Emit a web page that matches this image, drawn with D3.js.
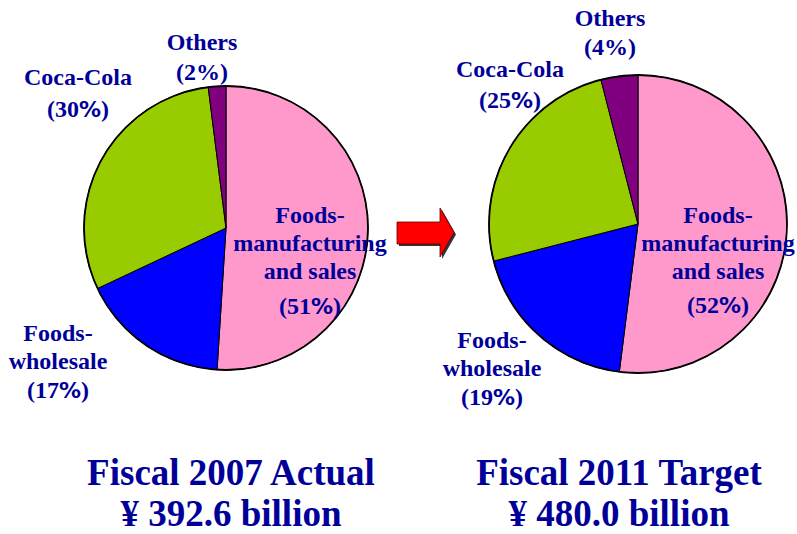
<!DOCTYPE html>
<html><head><meta charset="utf-8">
<script src="https://cdn.jsdelivr.net/npm/d3@7"></script>
<style>body{margin:0;background:#fff}svg{display:block}
.lbl{font-family:"Liberation Serif","Times New Roman",serif;font-weight:bold;}
.pct{font-family:"DejaVu Sans",sans-serif;font-weight:bold;}
</style>
</head><body>
<script>
// ---- data ----
const categories = ["Foods-manufacturing and sales", "Foods-wholesale", "Coca-Cola", "Others"];
const values2007 = [51, 17, 30, 2];
const values2011 = [52, 19, 25, 4];
const colors = ["#ff99cc", "#0000ff", "#99cc00", "#800080"];
const titles2007 = ["Fiscal 2007 Actual", "\u00a5 392.6 billion"];
const titles2011 = ["Fiscal 2011 Target", "\u00a5 480.0 billion"];
const labelLines = [["Foods-", "manufacturing", "and sales"], ["Foods-", "wholesale"], ["Coca-Cola"], ["Others"]];
const wideCats = [true, true, true, false];

const W = 797, H = 534;
const svg = d3.select("body").append("svg").attr("width", W).attr("height", H);
const navy = "#000099";

const charts = [
  {values: values2007, cx: 226, cy: 228, r: 142, titles: titles2007, tx: 231,
   labels: [{x:310,y:223},{x:58,y:341},{x:78,y:85},{x:202,y:50}],
   pctGap: [35, 29, 32, 30]},
  {values: values2011, cx: 638, cy: 224, r: 149, titles: titles2011, tx: 619,
   labels: [{x:718,y:223},{x:492,y:348},{x:510,y:77},{x:610,y:26}],
   pctGap: [34, 29, 31, 29]}
];

const pie = d3.pie().sort(null).value(d => d);

charts.forEach(c => {
  const g = svg.append("g").attr("transform", `translate(${c.cx},${c.cy})`);
  const arc = d3.arc().innerRadius(0).outerRadius(c.r);
  g.selectAll("path.slice").data(pie(c.values)).join("path")
    .attr("class", "slice")
    .attr("d", arc)
    .attr("fill", (d, i) => colors[i])
    .attr("stroke", "#000").attr("stroke-width", 1).attr("stroke-linejoin", "round");
  g.append("circle").attr("r", c.r).attr("fill", "none").attr("stroke", "#000").attr("stroke-width", 1.8);

  c.labels.forEach((p, i) => {
    const lines = labelLines[i];
    lines.forEach((ln, k) => {
      svg.append("text").attr("class", "lbl")
        .attr("x", p.x).attr("y", p.y + k * 28)
        .attr("font-size", 24).attr("fill", navy).attr("text-anchor", "middle")
        .text(ln);
    });
    const py = p.y + (lines.length - 1) * 28 + c.pctGap[i];
    const t = svg.append("text").attr("class", "lbl")
      .attr("x", p.x).attr("y", py)
      .attr("font-size", 24).attr("fill", navy).attr("text-anchor", "middle");
    t.append("tspan").attr("class", "lbl").text("(" + c.values[i]);
    if (wideCats[i]) {
      t.append("tspan").attr("class", "pct").attr("font-size", 22).text("%");
    } else {
      t.append("tspan").attr("class", "lbl").text("%");
    }
    t.append("tspan").attr("class", "lbl").text(")");
  });

  c.titles.forEach((s, k) => {
    svg.append("text").attr("class", "lbl")
      .attr("x", c.tx).attr("y", k === 0 ? 485 : 526)
      .attr("text-anchor", "middle")
      .attr("font-size", 37)
      .attr("fill", navy).text(s);
  });
});

// arrow (decoration)
const arrowPath = "M397,222 L440,222 L440,208 L454,232.5 L440,257 L440,244 L397,244 Z";
svg.append("path").attr("d", arrowPath).attr("transform", "translate(2,2)").attr("fill", "#333");
svg.append("path").attr("d", arrowPath).attr("fill", "#ff0000").attr("stroke", "#600").attr("stroke-width", 0.8);
</script>
</body></html>
